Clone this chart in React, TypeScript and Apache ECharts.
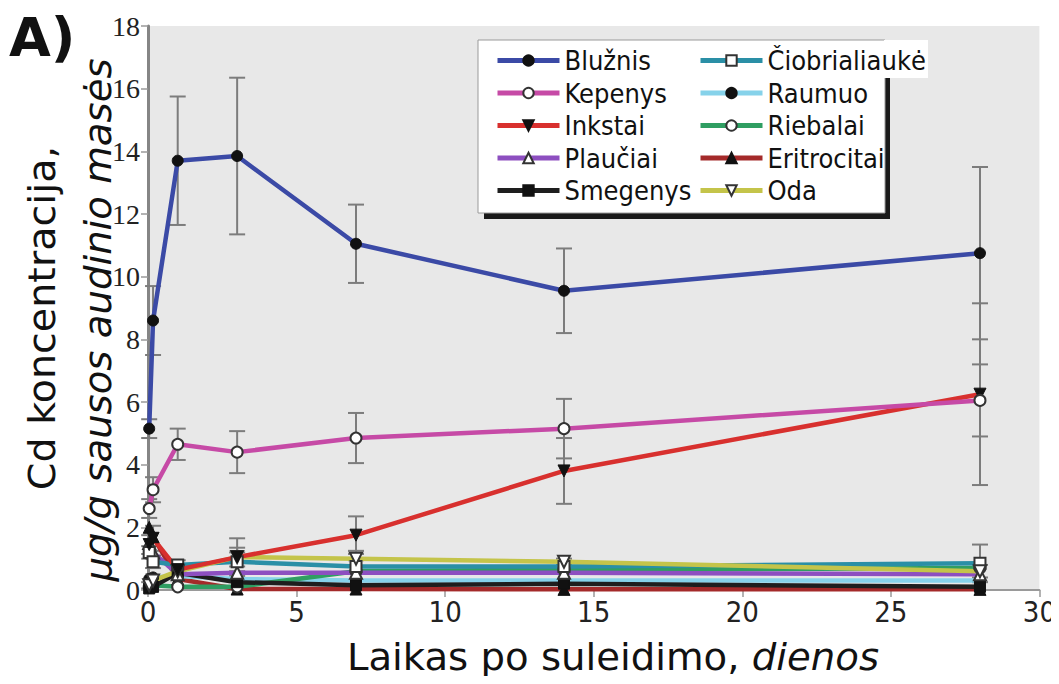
import React, { useEffect, useRef } from "react";
import * as echarts from "echarts";

// Sampling times after injection (days)
const days = [0.04, 0.17, 1, 3, 7, 14, 28];

// Cd concentration, µg/g dry tissue mass
const bluznis = [5.15, 8.6, 13.7, 13.85, 11.05, 9.55, 10.75];
const kepenys = [2.6, 3.2, 4.65, 4.4, 4.85, 5.15, 6.05];
const inkstai = [1.45, 1.65, 0.65, 1.05, 1.75, 3.8, 6.25];
const plauciai = [1.5, 1.2, 0.5, 0.55, 0.55, 0.55, 0.5];
const smegenys = [0.05, 0.1, 0.55, 0.25, 0.15, 0.2, 0.1];
const ciobrialiauke = [1.2, 0.9, 0.8, 0.9, 0.75, 0.75, 0.85];
const raumuo = [0.35, 0.4, 0.45, 0.35, 0.3, 0.3, 0.3];
const riebalai = [0.1, 0.15, 0.1, 0.1, 0.6, 0.65, 0.7];
const eritrocitai = [2.0, 1.7, 0.35, 0.03, 0.03, 0.02, 0.02];
const oda = [0.15, 0.3, 0.6, 1.05, 1.0, 0.9, 0.6];

// Standard deviations
const bluznisErr = [0.3, 1.1, 2.05, 2.5, 1.25, 1.35, 2.75];
const kepenysErr = [0.3, 0.4, 0.5, 0.67, 0.8, 0.95, 1.15];
const inkstaiErr = [0.3, 0.4, 0.15, 0.6, 0.6, 1.05, 2.9];
const ciobrialiaukeErr = [0.2, 0.2, 0.15, 0.3, 0.2, 0.15, 0.6];
const odaErr = [0.1, 0.1, 0.1, 0.3, 0.25, 0.1, 0.2];

const yTicks = ["0", "2", "4", "6", "8", "10", "12", "14", "16", "18"];

type Organ = {
  name: string;
  values: number[];
  color: string;
  symbol: string;
  filled: boolean;
  rotate?: number;
};

const organs: Organ[] = [
  { name: "Eritrocitai", values: eritrocitai, color: "#a42a2a", symbol: "triangle", filled: true },
  { name: "Raumuo", values: raumuo, color: "#86d2ea", symbol: "circle", filled: true },
  { name: "Riebalai", values: riebalai, color: "#2f9e62", symbol: "circle", filled: false },
  { name: "Smegenys", values: smegenys, color: "#1e1e1e", symbol: "rect", filled: true },
  { name: "Plaučiai", values: plauciai, color: "#8d4fc0", symbol: "triangle", filled: false },
  { name: "Čiobrialiaukė", values: ciobrialiauke, color: "#2a8fa6", symbol: "rect", filled: false },
  { name: "Oda", values: oda, color: "#c4c44a", symbol: "triangle", filled: false, rotate: 180 },
  { name: "Inkstai", values: inkstai, color: "#d8302e", symbol: "triangle", filled: true, rotate: 180 },
  { name: "Kepenys", values: kepenys, color: "#c64aa6", symbol: "circle", filled: false },
  { name: "Blužnis", values: bluznis, color: "#3b4aa6", symbol: "circle", filled: true },
];

const errorSets: { values: number[]; err: number[] }[] = [
  { values: bluznis, err: bluznisErr },
  { values: kepenys, err: kepenysErr },
  { values: inkstai, err: inkstaiErr },
  { values: ciobrialiauke, err: ciobrialiaukeErr },
  { values: oda, err: odaErr },
];

const legendLeft = ["Blužnis", "Kepenys", "Inkstai", "Plaučiai", "Smegenys"];
const legendRight = ["Čiobrialiaukė", "Raumuo", "Riebalai", "Eritrocitai", "Oda"];

const FONT = "'DejaVu Sans Condensed', 'DejaVu Sans', sans-serif";

export default function App() {
  const ref = useRef<HTMLDivElement>(null);

  useEffect(() => {
    if (!ref.current) return;
    const chart = echarts.init(ref.current, undefined, { renderer: "svg" });

    const lineSeries = organs.map((o) => ({
      type: "line",
      name: o.name,
      data: days.map((d, i) => [d, o.values[i]]),
      symbol: o.symbol,
      symbolSize: o.symbol === "triangle" ? 12 : 11,
      symbolRotate: o.rotate || 0,
      lineStyle: { color: o.color, width: 4.5 },
      itemStyle: o.filled
        ? { color: "#111", borderColor: "#111", borderWidth: 1 }
        : { color: "#ffffff", borderColor: "#333", borderWidth: 2 },
      emphasis: { disabled: true },
      z: 3,
    }));

    const errSeries = errorSets.map((s) => ({
      type: "custom",
      data: days.map((d, i) => [d, s.values[i] - s.err[i], s.values[i] + s.err[i]]),
      encode: { x: 0, y: [1, 2] },
      z: 2,
      renderItem: (_p: any, api: any) => {
        const x = api.value(0);
        const lo = api.coord([x, api.value(1)]);
        const hi = api.coord([x, api.value(2)]);
        const w = 8;
        const st = { stroke: "#7c7c7c", lineWidth: 2 };
        return {
          type: "group",
          children: [
            { type: "line", shape: { x1: lo[0], y1: lo[1], x2: hi[0], y2: hi[1] }, style: st },
            { type: "line", shape: { x1: lo[0] - w, y1: lo[1], x2: lo[0] + w, y2: lo[1] }, style: st },
            { type: "line", shape: { x1: hi[0] - w, y1: hi[1], x2: hi[0] + w, y2: hi[1] }, style: st },
          ],
        };
      },
    }));

    const legendCommon = {
      orient: "vertical",
      itemWidth: 62,
      itemHeight: 13,
      itemGap: 5.5,
      lineStyle: { width: 5 },
      textStyle: { fontFamily: FONT, fontSize: 27, color: "#111", lineHeight: 27 },
      selectedMode: false,
      z: 10,
    };

    chart.setOption({
      animation: false,
      backgroundColor: "#ffffff",
      grid: {
        left: 148,
        right: 19,
        top: 26,
        bottom: 94,
        show: true,
        backgroundColor: "#e8e8e8",
        borderWidth: 0,
      },
      xAxis: {
        type: "value",
        min: 0,
        max: 30,
        interval: 5,
        axisLine: { show: true, lineStyle: { color: "#9a9a9a", width: 2 } },
        axisTick: { show: true, length: 7, lineStyle: { color: "#9a9a9a", width: 1.5 } },
        splitLine: { show: false },
        axisLabel: { fontFamily: FONT, fontSize: 29, color: "#222", margin: 7 },
      },
      yAxis: {
        type: "value",
        min: 0,
        max: 18,
        interval: 2,
        axisLine: { show: true, lineStyle: { color: "#858585", width: 3 } },
        axisTick: { show: true, length: 7, lineStyle: { color: "#9a9a9a", width: 1.5 } },
        splitLine: { show: false },
        axisLabel: {
          fontFamily: "'Liberation Serif', 'DejaVu Serif', serif",
          fontSize: 28,
          color: "#222",
          margin: 8,
          formatter: (v: number) => yTicks[Math.round(v / 2)] ?? String(v),
        },
      },
      legend: [
        { ...legendCommon, left: 490, top: 42, data: legendLeft },
        { ...legendCommon, left: 693, top: 42, data: legendRight },
      ],
      graphic: [
        // legend frame with its drop shadow
        { type: "rect", z: 5, shape: { x: 484, y: 46, width: 406, height: 173 }, style: { fill: "#1a1a1a" } },
        { type: "rect", z: 6, shape: { x: 478, y: 40, width: 407, height: 173 }, style: { fill: "#ffffff", stroke: "#9a9a9a", lineWidth: 1 } },
        { type: "rect", z: 6, shape: { x: 884, y: 40, width: 44, height: 38 }, style: { fill: "#ffffff" } },
        // panel letter
        {
          type: "text",
          left: 9,
          top: 10,
          style: { text: "A)", fontFamily: "'DejaVu Sans', sans-serif", fontWeight: "bold", fontSize: 54, fill: "#111" },
        },
        // x-axis title
        {
          type: "text",
          x: 613,
          y: 657,
          scaleX: 1.13,
          style: {
            text: "Laikas po suleidimo, {i|dienos}",
            fontFamily: FONT,
            fontSize: 38,
            fill: "#111",
            align: "center",
            verticalAlign: "middle",
            rich: { i: { fontStyle: "italic", fontFamily: FONT, fontSize: 38, fill: "#111" } },
          },
        },
        // y-axis title, two lines
        {
          type: "text",
          x: 42,
          y: 318,
          rotation: Math.PI / 2,
          scaleX: 1.16,
          style: {
            text: "Cd koncentracija,",
            fontFamily: FONT,
            fontSize: 38,
            fill: "#111",
            align: "center",
            verticalAlign: "middle",
          },
        },
        {
          type: "text",
          x: 98,
          y: 320,
          rotation: Math.PI / 2,
          scaleX: 1.13,
          style: {
            text: "μg/g sausos audinio masės",
            fontFamily: FONT,
            fontStyle: "italic",
            fontSize: 38,
            fill: "#111",
            align: "center",
            verticalAlign: "middle",
          },
        },
      ],
      series: [...errSeries, ...lineSeries],
    });

    return () => chart.dispose();
  }, []);

  return <div ref={ref} style={{ width: 1059, height: 684, margin: -8 }} />;
}
